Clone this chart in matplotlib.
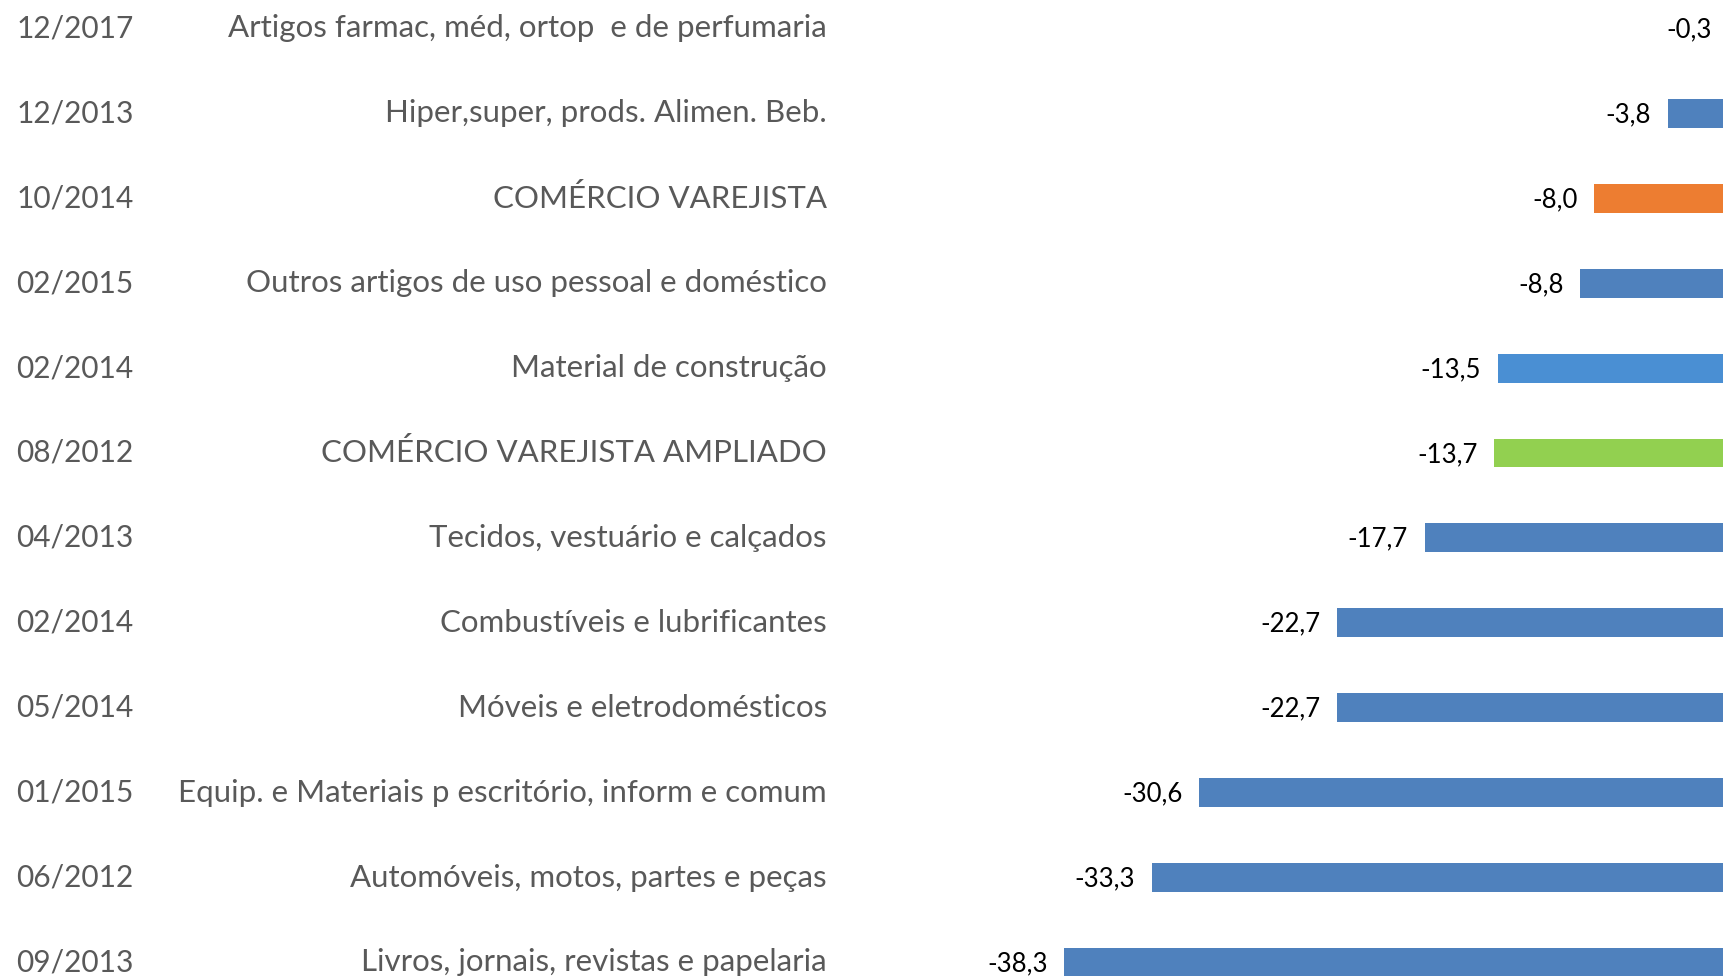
import matplotlib
matplotlib.use("Agg")
import matplotlib.pyplot as plt

dates = ["12/2017", "12/2013", "10/2014", "02/2015", "02/2014", "08/2012",
         "04/2013", "02/2014", "05/2014", "01/2015", "06/2012", "09/2013"]
names = ["Artigos farmac, méd, ortop  e de perfumaria",
         "Hiper,super, prods. Alimen. Beb.",
         "COMÉRCIO VAREJISTA",
         "Outros artigos de uso pessoal e doméstico",
         "Material de construção",
         "COMÉRCIO VAREJISTA AMPLIADO",
         "Tecidos, vestuário e calçados",
         "Combustíveis e lubrificantes",
         "Móveis e eletrodomésticos",
         "Equip. e Materiais p escritório, inform e comum",
         "Automóveis, motos, partes e peças",
         "Livros, jornais, revistas e papelaria"]
values = [-0.3, -3.8, -8.0, -8.8, -13.5, -13.7, -17.7, -22.7, -22.7, -30.6, -33.3, -38.3]
kinds = ["seg", "seg", "total", "seg", "constr", "ampl", "seg", "seg", "seg", "seg", "seg", "seg"]

palette = {"seg": "#4f81bd", "total": "#ed7d31", "constr": "#4a8fd3", "ampl": "#92d050"}

plt.rcParams['font.family'] = ['Lato', 'DejaVu Sans']

fig = plt.figure(figsize=(17.24, 9.76), dpi=100)
ax = fig.add_axes([0, 0, 1, 1])

pos = list(range(len(values)))
ax.barh(pos, values, height=0.34, color=[palette[k] for k in kinds])

ax.set_xlim(-99.2, -0.57)
ax.set_ylim(11.16, -0.335)
ax.axis("off")

for i, (d, n, v) in enumerate(zip(dates, names, values)):
    ax.text(75 / 1724, i, d, transform=ax.get_yaxis_transform(), ha="center",
            va="center", fontsize=21.5, color="#595959")
    ax.text(827 / 1724, i, n, transform=ax.get_yaxis_transform(), ha="right",
            va="center", fontsize=22.5, color="#595959")
    ax.annotate(f"{v:.1f}".replace(".", ","), xy=(v, i), xytext=(-12, -1),
                textcoords="offset points", ha="right", va="center",
                fontsize=18.5, color="black", annotation_clip=False)

fig.savefig("out.png", dpi=100)
